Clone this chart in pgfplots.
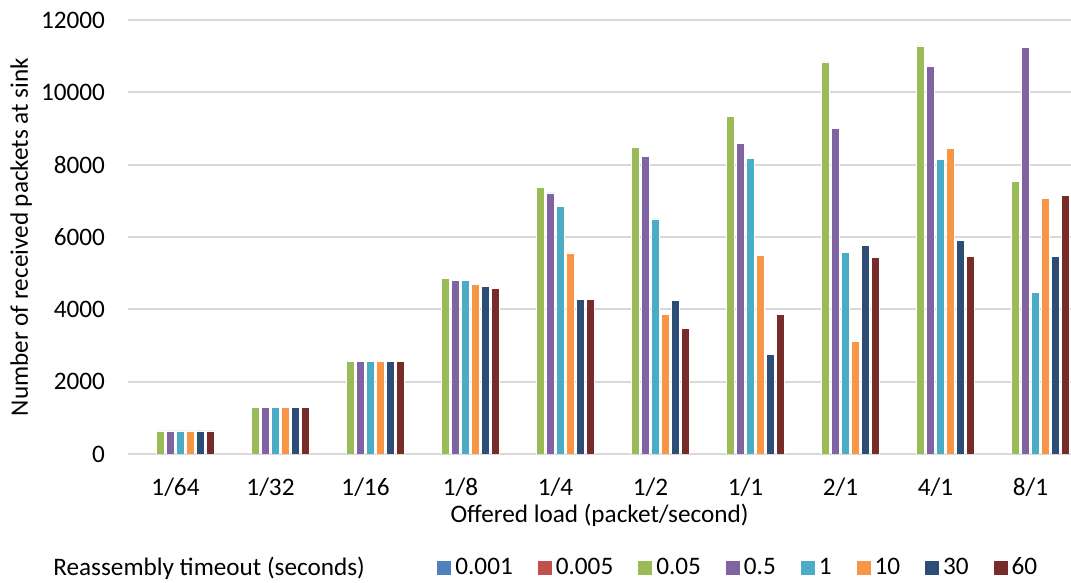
\documentclass[border=0pt]{standalone}
\usepackage{fontspec}
\setmainfont{Carlito}
\usepackage{pgfplots}
\pgfplotsset{compat=1.18}
\definecolor{cA}{HTML}{4F81BD}
\definecolor{cB}{HTML}{C0504D}
\definecolor{cC}{HTML}{9BBB59}
\definecolor{cD}{HTML}{8064A2}
\definecolor{cE}{HTML}{4BACC6}
\definecolor{cF}{HTML}{F79646}
\definecolor{cG}{HTML}{2C4D75}
\definecolor{cH}{HTML}{772C2A}
\definecolor{gridc}{HTML}{D9D9D9}
\begin{document}
\begin{tikzpicture}[font=\fontsize{12.6}{14}\selectfont]
\begin{axis}[
  at={(0,0)}, anchor=south west,
  scale only axis,
  width=471.5pt, height=217pt,
  ybar=1pt, bar width=4pt,
  xmin=-0.5, xmax=9.426,
  ymin=0, ymax=12000,
  ytick={0,2000,4000,6000,8000,10000,12000},
  xtick={0,...,9},
  xticklabels={1/64,1/32,1/16,1/8,1/4,1/2,1/1,2/1,4/1,8/1},
  /pgf/number format/assume math mode=true,
  /pgf/number format/1000 sep={},
  scaled y ticks=false,
  major tick length=0pt,
  axis x line*=bottom, axis y line*=left,
  x axis line style={gridc, line width=0.9pt, -},
  y axis line style={draw=none},
  ymajorgrids, grid style={gridc, line width=0.9pt},
  yticklabel style={anchor=east, xshift=-8pt},
  xticklabel style={anchor=center, yshift=-16.5pt},
  every axis y label/.style={at={(axis description cs:-0.1134,0.5)}, rotate=90, anchor=center},
  every axis x label/.style={at={(axis description cs:0.5,-0.1406)}, anchor=center},
  xlabel={Offered load (packet/second)},
  ylabel={Number of received packets at sink},
  legend columns=9,
  legend style={at={(axis description cs:-0.0838,-0.262)}, anchor=west, draw=none, fill=none, inner sep=0pt,
    nodes={inner xsep=2pt},
    /tikz/every even column/.append style={column sep=10.5pt}},
  legend image code/.code={\fill[#1, draw=none] (0pt,-3.5pt) rectangle (7pt,3.5pt);},
  legend cell align=left,
]
\addlegendimage{empty legend}
\addlegendentry{\makebox[179.5pt][l]{Reassembly timeout (seconds)}}
\addplot[fill=none, draw=none, legend image code/.code={\fill[cA] (0pt,-3.5pt) rectangle (7pt,3.5pt);}] coordinates {(0,0) (1,0) (2,0) (3,0) (4,0) (5,0) (6,0) (7,0) (8,0) (9,0)};
\addlegendentry{0.001}
\addplot[fill=none, draw=none, legend image code/.code={\fill[cB] (0pt,-3.5pt) rectangle (7pt,3.5pt);}] coordinates {(0,0) (1,0) (2,0) (3,0) (4,0) (5,0) (6,0) (7,0) (8,0) (9,0)};
\addlegendentry{0.005}
\addplot[fill=cC, draw=white, line width=0.3pt] coordinates {(0,640) (1,1290) (2,2560) (3,4856) (4,7377) (5,8476) (6,9343) (7,10840) (8,11283) (9,7543)};
\addlegendentry{0.05}
\addplot[fill=cD, draw=white, line width=0.3pt] coordinates {(0,640) (1,1290) (2,2560) (3,4800) (4,7221) (5,8219) (6,8587) (7,9003) (8,10720) (9,11236)};
\addlegendentry{0.5}
\addplot[fill=cE, draw=white, line width=0.3pt] coordinates {(0,640) (1,1290) (2,2560) (3,4792) (4,6842) (5,6501) (6,8172) (7,5568) (8,8144) (9,4477)};
\addlegendentry{1}
\addplot[fill=cF, draw=white, line width=0.3pt] coordinates {(0,640) (1,1290) (2,2560) (3,4690) (4,5560) (5,3859) (6,5493) (7,3111) (8,8457) (9,7064)};
\addlegendentry{10}
\addplot[fill=cG, draw=white, line width=0.3pt] coordinates {(0,640) (1,1290) (2,2560) (3,4626) (4,4266) (5,4238) (6,2751) (7,5770) (8,5909) (9,5466)};
\addlegendentry{30}
\addplot[fill=cH, draw=white, line width=0.3pt] coordinates {(0,640) (1,1290) (2,2560) (3,4580) (4,4285) (5,3463) (6,3859) (7,5429) (8,5466) (9,7147)};
\addlegendentry{60}
\end{axis}
\pgfresetboundingbox
\path[use as bounding box] (-64pt,-64.5pt) rectangle (471.5pt,227pt);
\end{tikzpicture}
\end{document}
